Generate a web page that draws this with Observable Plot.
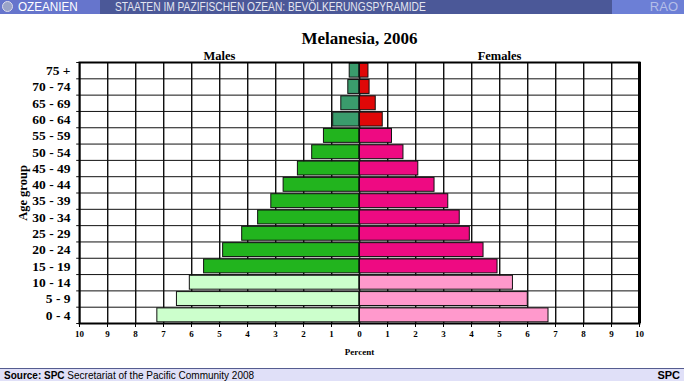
<!DOCTYPE html>
<html><head><meta charset="utf-8">
<script src="https://cdn.jsdelivr.net/npm/d3@7"></script>
<script src="https://cdn.jsdelivr.net/npm/@observablehq/plot@0.6"></script>
<style>
body{margin:0;width:684px;height:381px;overflow:hidden;background:#fff;font-family:"Liberation Sans",Arial,sans-serif}
#hdr{position:relative;height:14px;background:#4b5898;font-size:13px;line-height:14px}
#hl{position:absolute;left:0;top:0;width:100px;height:14px;background:#6675cc;color:#fff}
#hl span{position:absolute;left:18px;top:0;transform:scaleX(0.9);transform-origin:left center}
#globe{position:absolute;left:2px;top:1px;width:11px;height:11px;border-radius:50%;background:#9aa4c8;border:1px solid #dde;box-sizing:border-box}
#hm{position:absolute;left:115px;top:0;color:#e4e6f0;transform:scaleX(0.785);transform-origin:left center;white-space:nowrap}
#hr{position:absolute;right:0;top:0;width:72px;height:14px;background:#6c7fd6;color:#b4bee8}
#hr span{position:absolute;right:6px;top:0}
#ftr{position:absolute;left:0;top:368px;width:684px;height:13px;background:#e0e0f8;border-top:1px solid #555c90;font-size:10px;line-height:13px;color:#000}
#ftr .l{position:absolute;left:4px;top:0}
#ftr .r{position:absolute;right:4px;top:0;font-weight:bold;font-size:11px}
#chart svg{display:block}
</style></head>
<body>
<div id="hdr"><div id="hl"><div id="globe"></div><span>OZEANIEN</span></div><div id="hm">STAATEN IM PAZIFISCHEN OZEAN: BEVÖLKERUNGSPYRAMIDE</div><div id="hr"><span>RAO</span></div></div>
<div id="chart"></div>
<div id="ftr"><span class="l"><b>Source: SPC</b> Secretariat of the Pacific Community 2008</span><span class="r">SPC</span></div>
<script>
const title = "Melanesia, 2006";
const ages = ["0 - 4","5 - 9","10 - 14","15 - 19","20 - 24","25 - 29","30 - 34","35 - 39","40 - 44","45 - 49","50 - 54","55 - 59","60 - 64","65 - 69","70 - 74","75 +"];
const groups = ["young","young","young","adult","adult","adult","adult","adult","adult","adult","adult","adult","old","old","old","old"];
const males = [7.22,6.52,6.06,5.55,4.87,4.19,3.62,3.15,2.71,2.20,1.69,1.27,0.94,0.65,0.40,0.35];
const females = [6.75,6.01,5.48,4.93,4.43,3.94,3.58,3.17,2.68,2.10,1.57,1.16,0.83,0.58,0.36,0.32];
const xTicks = d3.range(-10, 11);

const maleColor = {young:"#ccffcc", adult:"#22b41e", old:"#3a9c6c"};
const femaleColor = {young:"#ff99cc", adult:"#ee0a82", old:"#e00808"};

const rows = ages.map((a, i) => ({age:a, i, group:groups[i], male:males[i], female:females[i]}));
const F = "Liberation Serif";

const chart = Plot.plot({
  width: 684, height: 354,
  marginTop: 48, marginBottom: 45, marginLeft: 79, marginRight: 45,
  style: {fontFamily: F, fontWeight: "bold", color: "#000", background: "#fff"},
  x: {domain: [-10, 10]},
  y: {domain: [0, ages.length]},
  marks: [
    Plot.ruleX(xTicks, {x: d => d, dx: 1, y1: 0, y2: ages.length, stroke: "#999", strokeWidth: 1}),
    Plot.ruleX(xTicks, {x: d => d, y1: 0, y2: ages.length, stroke: "#111", strokeWidth: 1}),
    Plot.ruleY(d3.range(0, ages.length + 1), {y: d => d, x1: -10.1, x2: 10, stroke: "#111", strokeWidth: 1}),
    Plot.rectX(rows, {x1: 0, x2: d => -d.male, y1: d => d.i, y2: d => d.i + 1, insetTop: 1.2, insetBottom: 1.2, fill: d => maleColor[d.group], stroke: "#111", strokeWidth: 1}),
    Plot.rectX(rows, {x1: 0, x2: d => d.female, y1: d => d.i, y2: d => d.i + 1, insetTop: 1.2, insetBottom: 1.2, fill: d => femaleColor[d.group], stroke: "#111", strokeWidth: 1}),
    Plot.ruleX([0], {y1: 0, y2: ages.length, stroke: "#111", strokeWidth: 1}),
    Plot.frame({stroke: "#000", strokeWidth: 2}),
    Plot.ruleX([10], {y1: 0, y2: ages.length, stroke: "#000", strokeWidth: 3}),
    Plot.axisY({ticks: ages.map((a, i) => i + 0.5), tickFormat: d => ages[Math.round(d - 0.5)], tickSize: 0, tickPadding: 9, fontSize: 13.5, fontWeight: "bold", label: null}),
    Plot.text(["Age group"], {frameAnchor: "left", textAnchor: "middle", lineAnchor: "middle", dx: -57, rotate: -90, fontSize: 12.5, fontWeight: "bold", text: d => d}),
    Plot.axisX({ticks: xTicks, tickFormat: d => Math.abs(d), tickSize: 4, tickPadding: 3, fontSize: 9, fontWeight: "bold", label: "Percent", labelAnchor: "center", labelArrow: "none", labelOffset: 31}),
    Plot.text([title], {x: 0, frameAnchor: "top", lineAnchor: "middle", dy: -24, fontSize: 17, fontWeight: "bold", text: d => d}),
    Plot.text(["Males"], {x: -5, frameAnchor: "top", lineAnchor: "middle", dy: -7, fontSize: 12.5, fontWeight: "bold", text: d => d}),
    Plot.text(["Females"], {x: 5, frameAnchor: "top", lineAnchor: "middle", dy: -7, fontSize: 12.5, fontWeight: "bold", text: d => d})
  ]
});
document.getElementById("chart").appendChild(chart);
</script>
</body></html>
